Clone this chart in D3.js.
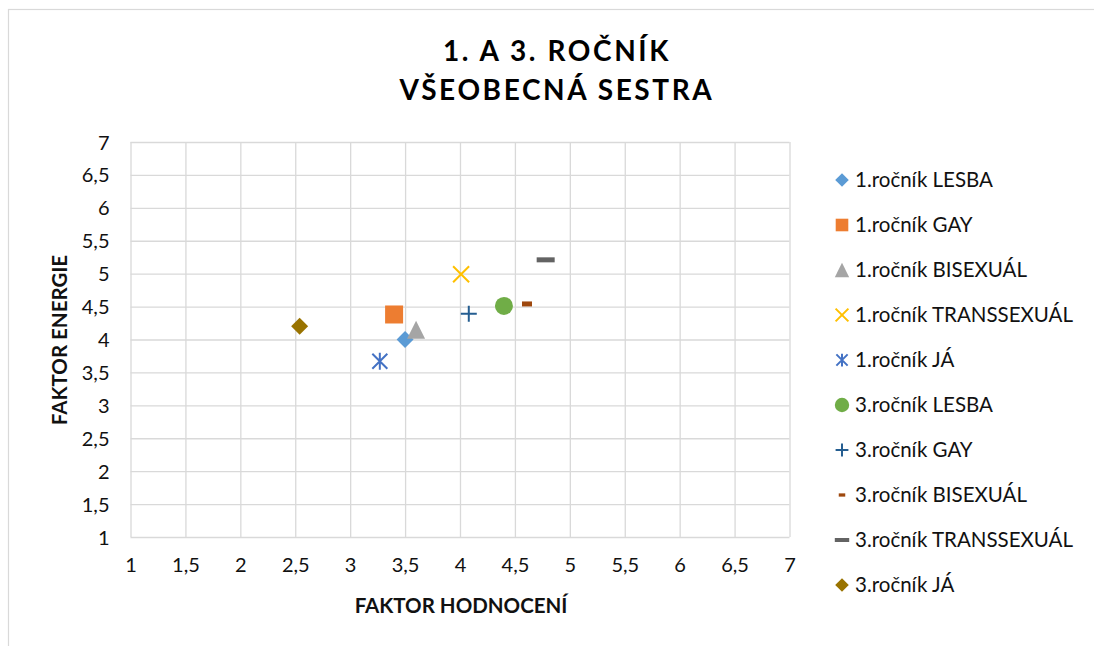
<!DOCTYPE html>
<html>
<head>
<meta charset="utf-8">
<script src="https://cdn.jsdelivr.net/npm/d3@7/dist/d3.min.js"></script>
<style>
  html, body { margin: 0; padding: 0; background: #fff; }
  svg { display: block; font-family: Lato, "Open Sans", sans-serif; }
</style>
</head>
<body>
<svg id="chart" width="1094" height="646"></svg>
<script>
const titleLines = ["1. A 3. ROČNÍK", "VŠEOBECNÁ SESTRA"];
const xAxisTitle = "FAKTOR HODNOCENÍ";
const yAxisTitle = "FAKTOR ENERGIE";
const xTicks = [1, 1.5, 2, 2.5, 3, 3.5, 4, 4.5, 5, 5.5, 6, 6.5, 7];
const yTicks = [1, 1.5, 2, 2.5, 3, 3.5, 4, 4.5, 5, 5.5, 6, 6.5, 7];
const seriesNames = ["1.ročník LESBA", "1.ročník GAY", "1.ročník BISEXUÁL", "1.ročník TRANSSEXUÁL", "1.ročník JÁ",
                     "3.ročník LESBA", "3.ročník GAY", "3.ročník BISEXUÁL", "3.ročník TRANSSEXUÁL", "3.ročník JÁ"];
const xValues = [3.5, 3.4, 3.6, 4.01, 3.27, 4.4, 4.08, 4.61, 4.78, 2.54];
const yValues = [4.0, 4.38, 4.15, 4.99, 3.67, 4.51, 4.39, 4.54, 5.21, 4.2];
const colors = ["#5B9BD5", "#ED7D31", "#A5A5A5", "#FFC000", "#4472C4", "#70AD47", "#255E91", "#9E480E", "#636363", "#997300"];
const markers = ["diamond", "square", "triangle", "x", "star", "circle", "plus", "dashSmall", "dash", "diamond"];

const svg = d3.select("#chart");
const fmt = d3.formatLocale({decimal: ",", thousands: " ", grouping: [3], currency: ["", ""]}).format("~g");

// chart border
svg.append("rect").attr("x", 8.5).attr("y", 9.5).attr("width", 1200).attr("height", 800)
  .attr("fill", "#fff").attr("stroke", "#D9D9D9").attr("stroke-width", 1.2);

const x = d3.scaleLinear().domain([1, 7]).range([130.5, 789.5]);
const y = d3.scaleLinear().domain([1, 7]).range([537, 142]);

// title
svg.append("g").selectAll("text").data(titleLines).join("text")
  .attr("x", 557).attr("y", (d, i) => 61 + i * 39)
  .attr("text-anchor", "middle")
  .attr("font-size", 28).attr("font-weight", 700).attr("letter-spacing", 2.6)
  .attr("fill", "#000").text(d => d);

// grid via axes
const gx = svg.append("g").attr("transform", `translate(0,${y(1)})`)
  .call(d3.axisBottom(x).tickValues(xTicks).tickSize(-(y(1) - y(7))).tickFormat(fmt).tickPadding(21));
const gy = svg.append("g").attr("transform", `translate(${x(1)},0)`)
  .call(d3.axisLeft(y).tickValues(yTicks).tickSize(-(x(7) - x(1))).tickFormat(fmt).tickPadding(21));
[gx, gy].forEach(g => {
  g.select(".domain").remove();
  g.selectAll(".tick line").attr("stroke", "#D9D9D9").attr("stroke-width", 1.3);
  g.selectAll(".tick text").attr("font-family", "Lato, sans-serif").attr("font-size", 20).attr("fill", "#111");
});
gy.selectAll(".tick text").attr("dy", "0.35em");

// axis titles
svg.append("text").attr("x", 461).attr("y", 613).attr("text-anchor", "middle")
  .attr("font-size", 20.5).attr("font-weight", 700).attr("fill", "#111").text(xAxisTitle);
svg.append("text").attr("transform", `translate(67,340) rotate(-90)`).attr("text-anchor", "middle")
  .attr("font-size", 20.5).attr("font-weight", 700).attr("fill", "#111").text(yAxisTitle);

function drawMarker(g, type, color, scale) {
  const s = scale || 1;
  switch (type) {
    case "diamond":
      g.append("rect").attr("x", -6 * s).attr("y", -6 * s).attr("width", 12 * s).attr("height", 12 * s)
        .attr("transform", "rotate(45)").attr("fill", color);
      break;
    case "square":
      g.append("rect").attr("x", -9 * s).attr("y", -9 * s).attr("width", 18 * s).attr("height", 18 * s).attr("fill", color);
      break;
    case "triangle":
      g.append("path").attr("d", `M0,${-9 * s}L${9 * s},${9 * s}L${-9 * s},${9 * s}Z`).attr("fill", color);
      break;
    case "circle":
      g.append("circle").attr("r", 9 * s).attr("fill", color);
      break;
    case "x":
      g.append("path").attr("d", `M${-8 * s},${-8 * s}L${8 * s},${8 * s}M${8 * s},${-8 * s}L${-8 * s},${8 * s}`)
        .attr("stroke", color).attr("stroke-width", 2).attr("fill", "none");
      break;
    case "star":
      g.append("path").attr("d", `M0,${-8.5 * s}L0,${8.5 * s}M${-7.5 * s},${-7.5 * s}L${7.5 * s},${7.5 * s}M${7.5 * s},${-7.5 * s}L${-7.5 * s},${7.5 * s}`)
        .attr("stroke", color).attr("stroke-width", 2).attr("fill", "none");
      break;
    case "plus":
      g.append("path").attr("d", `M0,${-8 * s}L0,${8 * s}M${-8 * s},0L${8 * s},0`)
        .attr("stroke", color).attr("stroke-width", 2).attr("fill", "none");
      break;
    case "dashSmall":
      g.append("rect").attr("x", -5 * s).attr("y", -2.5 * s).attr("width", 10 * s).attr("height", 5 * s).attr("fill", color);
      break;
    case "dash":
      g.append("rect").attr("x", -9 * s).attr("y", -2.5 * s).attr("width", 18 * s).attr("height", 5 * s).attr("fill", color);
      break;
  }
}

// points
seriesNames.forEach((name, i) => {
  const g = svg.append("g").attr("transform", `translate(${x(xValues[i])},${y(yValues[i])})`);
  drawMarker(g, markers[i], colors[i], 1);
});

// legend
const legendScale = [0.8, 0.7, 0.8, 0.8, 0.75, 0.8, 0.8, 0.65, 0.8, 0.8];
seriesNames.forEach((name, i) => {
  const ly = 180 + i * 45;
  const g = svg.append("g").attr("transform", `translate(842,${ly})`);
  drawMarker(g, markers[i], colors[i], legendScale[i]);
  svg.append("text").attr("x", 855).attr("y", ly).attr("dy", "0.36em")
    .attr("font-size", 20.5).attr("fill", "#111").text(name);
});
</script>
</body>
</html>
